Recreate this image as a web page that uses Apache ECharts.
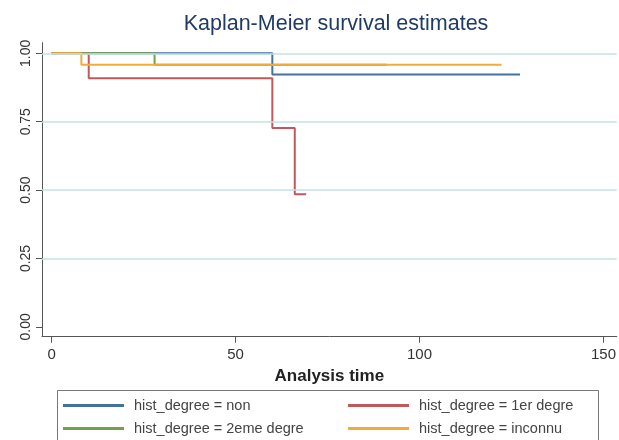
<!doctype html>
<html>
<head>
    <meta charset="utf-8">
    <title>Kaplan-Meier</title>
    <script src="https://cdn.jsdelivr.net/npm/echarts@6/dist/echarts.min.js"></script>
    <style>
        html, body { margin: 0; padding: 0; background: #fff; }
        #chart { width: 619px; height: 440px; }
    </style>
</head>
<body>
<div id="chart"></div>
<script>
    // temps d'analyse et survie estimee pour chaque groupe
    var nonTime = [0, 60, 127.3];
    var nonSurv = [1, 0.923, 0.923];
    var premTime = [0, 10.1, 60, 66.1, 69.2];
    var premSurv = [1, 0.909, 0.727, 0.485, 0.485];
    var deuxTime = [0, 28, 91];
    var deuxSurv = [1, 0.958, 0.958];
    var incTime = [0, 8.1, 122.3];
    var incSurv = [1, 0.958, 0.958];

    var names = ['hist_degree = non', 'hist_degree = 1er degre', 'hist_degree = 2eme degre', 'hist_degree = inconnu'];
    var xTicks = [0, 50, 100, 150];
    var yTicks = [0, 0.25, 0.5, 0.75, 1];
    var yGrid = [0.25, 0.5, 0.75, 1];

    var font = 'Liberation Sans, Arial, sans-serif';

    function pairs(t, s) {
        var out = [];
        for (var i = 0; i < t.length; i++) out.push([t[i], s[i]]);
        return out;
    }

    function km(name, t, s, color) {
        return {
            name: name,
            type: 'line',
            step: 'end',
            data: pairs(t, s),
            showSymbol: false,
            symbol: 'none',
            lineStyle: { color: color, width: 2 },
            itemStyle: { color: color },
            silent: true
        };
    }

    function legendCol(items, left) {
        return {
            data: items,
            orient: 'vertical',
            left: left, top: 398,
            width: 260, height: 60,
            padding: 0,
            itemWidth: 61, itemHeight: 3, itemGap: 8,
            icon: 'rect',
            textStyle: { color: '#444', fontSize: 14.5, fontFamily: font, padding: [0, 0, 0, 5] }
        };
    }

    var myChart = echarts.init(document.getElementById('chart'));
    option = {
        backgroundColor: '#fff',
        animation: false,
        title: {
            text: 'Kaplan-Meier survival estimates',
            left: 331,
            textAlign: 'center',
            top: 8,
            textStyle: { color: '#1f3b66', fontSize: 21.5, fontWeight: 'normal', fontFamily: font }
        },
        grid: { left: 42, right: 0, top: 42.7, bottom: 103.3 },
        legend: [
            legendCol([names[0], names[2]], 63),
            legendCol([names[1], names[3]], 348)
        ],
        graphic: [{
            type: 'rect',
            shape: { x: 57.5, y: 390.5, width: 541, height: 60 },
            style: { fill: 'none', stroke: '#777', lineWidth: 1 },
            z: -1
        }],
        xAxis: {
            type: 'value',
            min: -2.6, max: 153.6,
            name: 'Analysis time',
            nameLocation: 'middle',
            nameGap: 29,
            nameTextStyle: { color: '#222', fontSize: 17, fontWeight: 'bold', fontFamily: font },
            axisLine: { show: true, onZero: false, lineStyle: { color: '#555', width: 1 } },
            axisTick: { show: true, length: 6, customValues: xTicks, lineStyle: { color: '#555' } },
            axisLabel: { customValues: xTicks, margin: 11, color: '#333', fontSize: 15, fontFamily: font },
            splitLine: { show: false }
        },
        yAxis: {
            type: 'value',
            min: -0.036, max: 1.039,
            axisLine: { show: true, onZero: false, lineStyle: { color: '#555', width: 1 } },
            axisTick: { show: true, length: 6, customValues: yTicks, lineStyle: { color: '#555' } },
            axisLabel: {
                customValues: yTicks, rotate: 90, margin: 9,
                color: '#333', fontSize: 14, fontFamily: font,
                formatter: function (v) { return v.toFixed(2); }
            },
            splitLine: { show: false }
        },
        series: [
            // lignes de grille horizontales
            {
                type: 'line',
                data: [],
                silent: true,
                markLine: {
                    silent: true,
                    symbol: 'none',
                    label: { show: false },
                    lineStyle: { color: '#c3e2e5', width: 1.5, type: 'solid' },
                    data: yGrid.map(function (v) { return { yAxis: v }; })
                }
            },
            km(names[0], nonTime, nonSurv, '#4272a0'),
            km(names[1], premTime, premSurv, '#c0585c'),
            km(names[2], deuxTime, deuxSurv, '#72a04c'),
            km(names[3], incTime, incSurv, '#f3aa3c')
        ]
    };
    myChart.setOption(option);
</script>
</body>
</html>
